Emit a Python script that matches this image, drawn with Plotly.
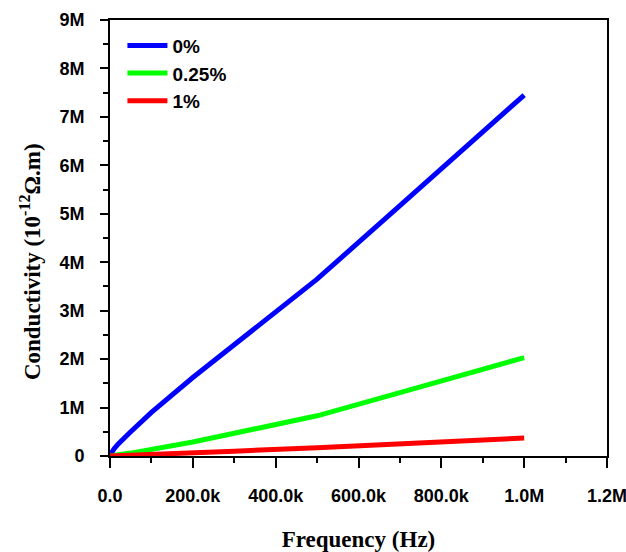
import plotly.graph_objects as go

freq = [0, 1e3, 10e3, 20e3, 50e3, 100e3, 200e3, 300e3, 500e3, 700e3, 1e6]
cond_0 = [0.0, 0.03e6, 0.15e6, 0.25e6, 0.5e6, 0.9e6, 1.62e6, 2.3e6, 3.65e6, 5.17e6, 7.45e6]
cond_025 = [0.0, 0.002e6, 0.012e6, 0.025e6, 0.06e6, 0.13e6, 0.29e6, 0.47e6, 0.83e6, 1.31e6, 2.03e6]
cond_1 = [0.0, 0.0005e6, 0.003e6, 0.006e6, 0.015e6, 0.03e6, 0.065e6, 0.1e6, 0.17e6, 0.25e6, 0.37e6]
series_names = ["0%", "0.25%", "1%"]
colors = ["#0000ff", "#00ff00", "#ff0000"]

x_tickvals = [0, 200e3, 400e3, 600e3, 800e3, 1e6, 1.2e6]
x_ticktext = ["0.0", "200.0k", "400.0k", "600.0k", "800.0k", "1.0M", "1.2M"]
y_tickvals = [0, 1e6, 2e6, 3e6, 4e6, 5e6, 6e6, 7e6, 8e6, 9e6]
y_ticktext = ["0", "1M", "2M", "3M", "4M", "5M", "6M", "7M", "8M", "9M"]

fig = go.Figure()
for name, ys, c in zip(series_names, [cond_0, cond_025, cond_1], colors):
    fig.add_trace(go.Scatter(x=freq, y=ys, mode="lines", name=name,
                             line=dict(color=c, width=5)))

tickfont = dict(family="Liberation Sans", size=18, color="black", weight="bold")
titlefont = dict(family="Liberation Serif", size=23, color="black", weight="bold")

fig.update_layout(
    width=626, height=552,
    margin=dict(l=110, r=19, t=20, b=96),
    plot_bgcolor="white", paper_bgcolor="white",
    showlegend=True,
    legend=dict(x=0.025, y=0.985, xanchor="left", yanchor="top",
                bgcolor="rgba(0,0,0,0)", font=dict(family="Liberation Sans", size=19, color="black", weight="bold"),
                itemwidth=40, tracegroupgap=8),
    xaxis=dict(range=[0, 1.2e6], tickvals=x_tickvals, ticktext=x_ticktext, automargin=False,
               ticklabeloverflow="allow",
               showgrid=False, zeroline=False, showline=True, linecolor="black", linewidth=2,
               mirror=True, ticks="outside", ticklen=10, tickwidth=2, tickcolor="black",
               ticklabelstandoff=12,
               minor=dict(dtick=100e3, ticks="outside", ticklen=5, tickwidth=2, tickcolor="black"),
               tickfont=tickfont,
               title=dict(text="Frequency (Hz)", font=titlefont, standoff=30)),
    yaxis=dict(range=[0, 9e6], tickvals=y_tickvals, ticktext=y_ticktext, automargin=False,
               ticklabeloverflow="allow",
               showgrid=False, zeroline=False, showline=True, linecolor="black", linewidth=2,
               mirror=True, ticks="outside", ticklen=8, tickwidth=2, tickcolor="black",
               ticklabelstandoff=12,
               minor=dict(dtick=0.5e6, ticks="outside", ticklen=5, tickwidth=2, tickcolor="black"),
               tickfont=tickfont),
    annotations=[dict(text="Conductivity (10<sup>-12</sup>Ω.m)", font=titlefont, textangle=-90,
                      xref="paper", yref="paper", x=-0.161, y=0.447,
                      xanchor="center", yanchor="middle", showarrow=False)],
)

fig.write_html("out.html")
